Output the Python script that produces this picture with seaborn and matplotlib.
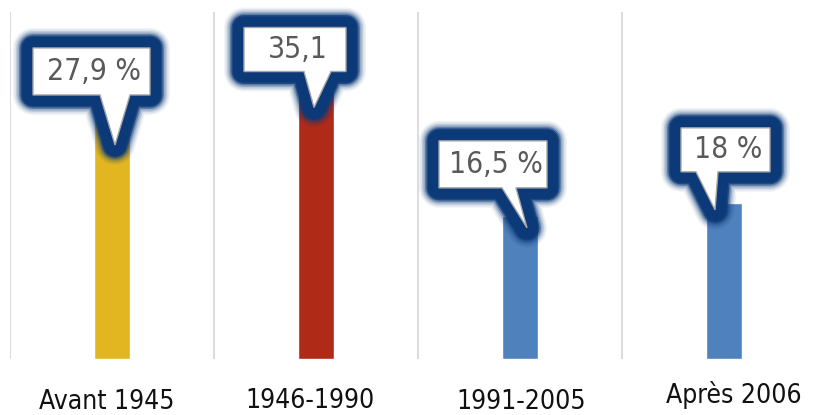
import matplotlib
matplotlib.use("Agg")
import matplotlib.pyplot as plt
import seaborn as sns
import pandas as pd
from matplotlib.patches import Polygon
from matplotlib.ticker import FixedLocator, NullLocator
from matplotlib.transforms import offset_copy

# data
periods = ["Avant 1945", "1946-1990", "1991-2005", "Après 2006"]
shares = [27.9, 35.1, 16.5, 18.0]
share_labels = ["27,9 %", "35,1", "16,5 %", "18 %"]
bar_colors = ["#e2b620", "#b02a18", "#4f81bd", "#4f81bd"]

# callout shapes, pixels from the bar top (x right, y down):
# box left, box right, box top, box bottom, pointer left, pointer right, tip x, tip y
callouts = [
    (-79, 38, -69, -22, -12, 18, 3, 28),
    (-72, 30, -27, 17, -12, 15, -2, 53),
    (-81, 27, -75, -28, -18, -4, 7, 12),
    (-43, 46, -75, -31, -28, -6, -9, 7),
]
# category label offsets from the bar foot, pixels (x right, y down)
label_offsets = [(-5, 43), (-6, 42), (1, 43), (10, 36)]

df = pd.DataFrame({"period": periods, "share": shares})

sns.set_style("white")
plt.rcParams["font.family"] = ["DejaVu Sans"]

fig = plt.figure(figsize=(8.2, 4.15), dpi=100)
ax = fig.add_axes([10 / 820, 56 / 415, 816 / 820, 347 / 415])

sns.barplot(data=df, x="period", y="share", hue="period", palette=bar_colors,
            width=0.18, saturation=1, legend=False, ax=ax)

ax.set_xlim(-0.5, 3.5)
ax.set_ylim(0, 40)
for s in ax.spines.values():
    s.set_visible(False)
ax.set_xlabel("")
ax.set_ylabel("")
ax.set_yticks([])
ax.xaxis.set_major_locator(NullLocator())
ax.xaxis.set_minor_locator(FixedLocator([-0.5, 0.5, 1.5, 2.5, 3.5]))
ax.tick_params(which="both", length=0)
ax.grid(which="minor", axis="x", color="#d9d9d9", lw=1.3)
ax.set_axisbelow(True)

for i, name in enumerate(periods):
    dx, dy = label_offsets[i]
    tr = offset_copy(ax.transData, fig=fig, x=dx, y=-dy, units="dots")
    ax.text(i, 0, name, transform=tr, ha="center", va="center", fontsize=19,
            fontstretch="condensed", color="#111111", clip_on=False)

# soft glow: stacked strokes, widest first
navy = "#0c3a78"
glow = [(40, 0.06), (37, 0.09), (34, 0.14), (31, 0.22), (28, 0.4), (25, 0.75), (22, 1.0)]
for i, val in enumerate(shares):
    ax0, ay0 = ax.transData.transform((i, val))
    x0, x1, y0, y1, pl, pr, tx, ty = callouts[i]
    pts = [(x0, y0), (x1, y0), (x1, y1), (pr, y1), (tx, ty), (pl, y1), (x0, y1)]
    verts = [(ax0 + px, ay0 - py) for px, py in pts]
    for lw, a in glow:
        fig.patches.append(Polygon(verts, closed=True, fill=False, edgecolor=navy,
                                   lw=lw * 0.72, alpha=a, joinstyle="round",
                                   transform=None, zorder=5))
    fig.patches.append(Polygon(verts, closed=True, facecolor="white",
                               edgecolor="#a6a6a6", lw=1, transform=None, zorder=6))
    cx = ax0 + (x0 + x1) / 2 + 3
    cy = ay0 - (y0 + y1) / 2
    fig.text(cx / 820, cy / 415, share_labels[i], ha="center", va="center",
             fontsize=21.5, fontstretch="condensed", color="#595959", zorder=7)

fig.savefig("out.png", dpi=100)
